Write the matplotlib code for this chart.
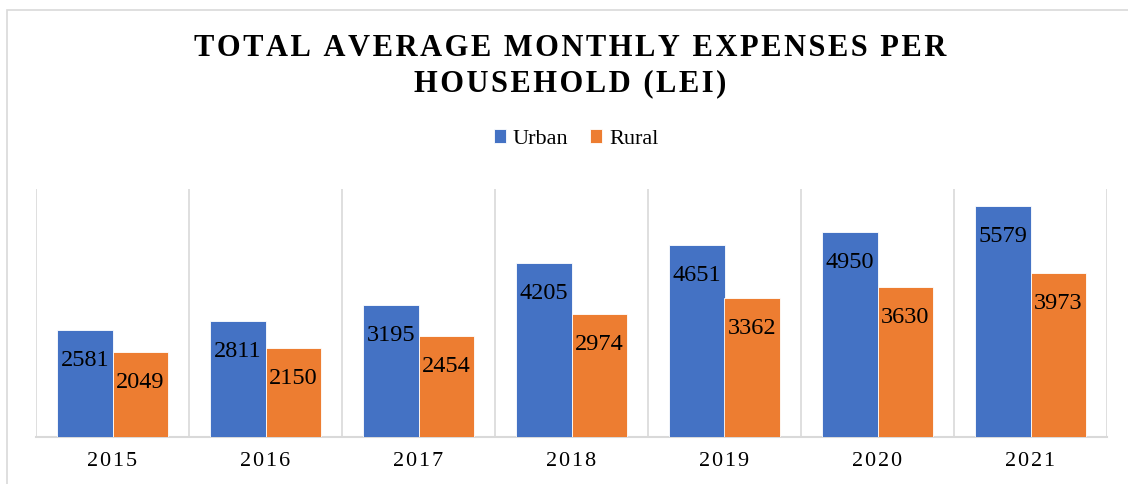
import matplotlib
matplotlib.use("Agg")
import matplotlib.pyplot as plt
from matplotlib.patches import Rectangle

years = ["2015", "2016", "2017", "2018", "2019", "2020", "2021"]
urban = [2581, 2811, 3195, 4205, 4651, 4950, 5579]
rural = [2049, 2150, 2454, 2974, 3362, 3630, 3973]
series_names = ["Urban", "Rural"]
title_lines = ["TOTAL AVERAGE MONTHLY EXPENSES PER", "HOUSEHOLD (LEI)"]

BLUE = "#4472C4"
ORANGE = "#ED7D31"
GRID = "#D9D9D9"
SERIF = ["Liberation Serif", "DejaVu Serif"]

HS = "\u200a"


def spaced(s, sep=HS):
    words = s.split(" ")
    return (sep + " " + sep).join(sep.join(w) for w in words)


fig = plt.figure(figsize=(11.28, 4.84), dpi=100)
fig.patch.set_facecolor("white")

# outer chart-area border
fig.add_artist(Rectangle((7 / 1128, -0.1), 1.2, (474 / 484) + 0.1,
                         transform=fig.transFigure, fill=False,
                         edgecolor=GRID, linewidth=1.2))

ax = fig.add_axes([36 / 1128, 47 / 484, (1107 - 36) / 1128, (437 - 189) / 484])
n = len(years)
xs = list(range(n))
w = 0.36
b1 = ax.bar([x - w / 2 for x in xs], urban, width=w, color=BLUE,
            edgecolor="white", linewidth=0.6, label=series_names[0], zorder=3)
b2 = ax.bar([x + w / 2 for x in xs], rural, width=w, color=ORANGE,
            edgecolor="white", linewidth=0.6, label=series_names[1], zorder=3)

for bars, vals in ((b1, urban), (b2, rural)):
    for r, v in zip(bars, vals):
        ax.annotate(str(v), (r.get_x() + r.get_width() / 2, v),
                    xytext=(0, -36), textcoords="offset pixels",
                    ha="center", va="baseline", fontsize=17.5,
                    family=SERIF, color="black", zorder=4)

ax.set_xlim(-0.5, n - 0.5)
ax.set_ylim(0, 6000)
for b in range(n + 1):
    ax.axvline(b - 0.5, color=GRID, linewidth=1.2, zorder=1)
for s in ("top", "right", "left"):
    ax.spines[s].set_visible(False)
ax.spines["bottom"].set_color(GRID)
ax.spines["bottom"].set_linewidth(1.5)
ax.set_yticks([])
ax.set_xticks(xs)
ax.set_xticklabels([spaced(y) for y in years], family=SERIF, fontsize=16)
ax.tick_params(axis="x", length=0, pad=11)

fig.text(570 / 1128, 1 - 48 / 484, spaced(title_lines[0]), ha="center", va="center",
         fontsize=22, fontweight="bold", family=SERIF)
fig.text(570 / 1128, 1 - 84 / 484, spaced(title_lines[1]), ha="center", va="center",
         fontsize=22, fontweight="bold", family=SERIF)

leg = fig.legend(handles=[b1, b2], labels=series_names, loc="center",
                 bbox_to_anchor=(576 / 1128, 1 - 139 / 484), ncol=2, frameon=False,
                 prop={"family": SERIF, "size": 16}, handlelength=0.55,
                 handleheight=0.55, handletextpad=0.3, columnspacing=1.0)

fig.savefig("out.png", dpi=100, facecolor="white")
